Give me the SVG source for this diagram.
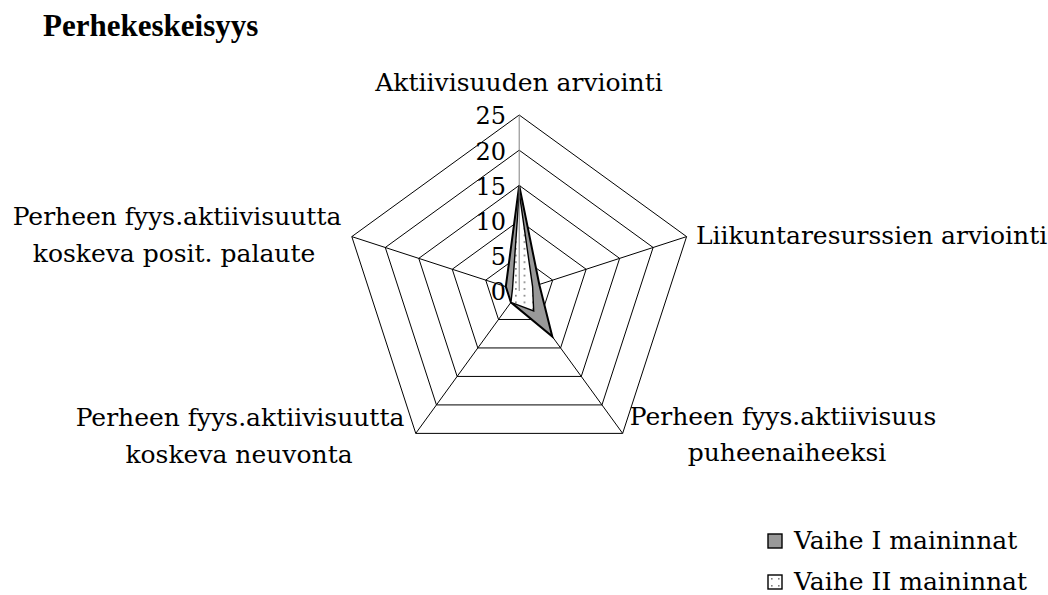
<svg xmlns="http://www.w3.org/2000/svg" width="1048" height="595" viewBox="0 0 1048 595">
  <style>
    .lbl { font-family: "DejaVu Serif", "Liberation Serif", serif; font-size: 25px; fill: #000; }
    .num { font-family: "DejaVu Serif", "Liberation Serif", serif; font-size: 24px; fill: #000; text-anchor: end; }
    .mid { text-anchor: middle; }
    .title { font-family: "Liberation Serif", serif; font-size: 31px; font-weight: bold; fill: #000; }
    .ring { fill: none; stroke: #000; stroke-width: 1; }
    .spoke { stroke: #000; stroke-width: 1; }
    .vaxis { stroke: #808080; stroke-width: 1; }
    .s1 { fill: #999999; stroke: #000; stroke-width: 2; stroke-linejoin: miter; }
    .s2 { fill: url(#dots); stroke: #000; stroke-width: 1.4; stroke-linejoin: miter; }
  </style>
  <defs>
    <pattern id="dots" x="515" y="0" width="8.6" height="6.7" patternUnits="userSpaceOnUse">
      <rect width="8.6" height="6.7" fill="#fff"/>
      <rect x="0" y="0" width="1.7" height="1.7" fill="#808080"/>
    </pattern>
    <pattern id="dots-key" x="768" y="575" width="7" height="7" patternUnits="userSpaceOnUse">
      <rect width="7" height="7" fill="#fff"/>
      <rect x="3" y="3" width="1.6" height="1.6" fill="#808080"/>
    </pattern>
  </defs>

  <rect width="1048" height="595" fill="#fff"/>

  <text class="title" x="43" y="36">Perhekeskeisyys</text>

  <!-- radar grid: rings at 5, 10, 15, 20, 25 -->
  <g id="grid">
    <polygon class="ring" points="519.2,255.8 552.68,280.12 539.89,319.48 498.51,319.48 485.72,280.12"/>
    <polygon class="ring" points="519.2,220.6 586.15,269.24 560.58,347.95 477.82,347.95 452.25,269.24"/>
    <polygon class="ring" points="519.2,185.4 619.63,258.37 581.27,376.43 457.13,376.43 418.77,258.37"/>
    <polygon class="ring" points="519.2,150.2 653.11,247.49 601.96,404.91 436.44,404.91 385.29,247.49"/>
    <polygon class="ring" points="519.2,115 686.59,236.61 622.65,433.39 415.75,433.39 351.81,236.61"/>
    <line class="spoke" x1="519.2" y1="291" x2="686.59" y2="236.61"/>
    <line class="spoke" x1="519.2" y1="291" x2="622.65" y2="433.39"/>
    <line class="spoke" x1="519.2" y1="291" x2="415.75" y2="433.39"/>
    <line class="spoke" x1="519.2" y1="291" x2="351.81" y2="236.61"/>
  </g>

  <!-- data series -->
  <g id="series-1">
    <polygon class="s1" points="519.2,185.4 539.29,284.47 552.3,336.56 510.92,302.39 505.81,286.65"/>
  </g>
  <g id="series-2">
    <polygon class="s2" points="519.2,192.44 532.59,286.65 533.68,310.93 510.92,302.39 512.5,288.82"/>
  </g>

  <!-- value axis -->
  <g id="value-axis">
    <line class="vaxis" x1="519.2" y1="291" x2="519.2" y2="115"/>
    <text class="num" x="506" y="124">25</text>
    <text class="num" x="506" y="159.5">20</text>
    <text class="num" x="506" y="194.5">15</text>
    <text class="num" x="506" y="229.5">10</text>
    <text class="num" x="506" y="265">5</text>
    <text class="num" x="506" y="300">0</text>
  </g>

  <!-- category labels -->
  <g id="cat-0"><text class="lbl mid" x="519" y="91">Aktiivisuuden arviointi</text></g>
  <g id="cat-1"><text class="lbl" x="696" y="244">Liikuntaresurssien arviointi</text></g>
  <g id="cat-2">
    <text class="lbl mid" x="783" y="425">Perheen fyys.aktiivisuus</text>
    <text class="lbl mid" x="787" y="461">puheenaiheeksi</text>
  </g>
  <g id="cat-3">
    <text class="lbl mid" x="240" y="426">Perheen fyys.aktiivisuutta</text>
    <text class="lbl mid" x="239" y="463">koskeva neuvonta</text>
  </g>
  <g id="cat-4">
    <text class="lbl mid" x="177" y="225">Perheen fyys.aktiivisuutta</text>
    <text class="lbl mid" x="174" y="262">koskeva posit. palaute</text>
  </g>

  <!-- legend -->
  <g id="legend">
    <rect x="768" y="534" width="14" height="14" fill="#999999" stroke="#000" stroke-width="1.4"/>
    <text class="lbl" x="794" y="549">Vaihe I maininnat</text>
    <rect x="768" y="575" width="14" height="14" fill="url(#dots-key)" stroke="#000" stroke-width="1.4"/>
    <text class="lbl" x="794" y="590">Vaihe II maininnat</text>
  </g>
</svg>
